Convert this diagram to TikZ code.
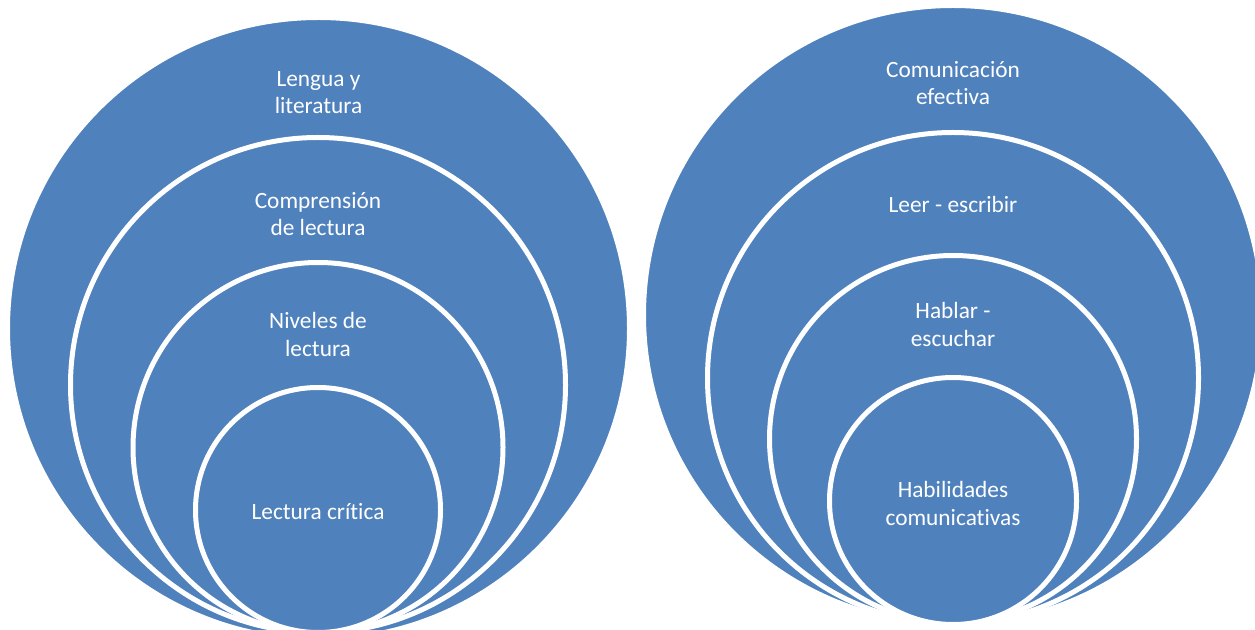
\documentclass[tikz,border=0pt]{standalone}
\usepackage{fontspec}
\setmainfont{Carlito}[Ligatures=NoCommon]
\usetikzlibrary{calc}
\definecolor{ringblue}{RGB}{79,129,189}

\tikzset{
  ring/.style={circle, fill=ringblue, draw=white, line width=3.75pt,
    inner sep=0pt, outer sep=0pt},
  ringlabel/.style={align=center, text=white, inner sep=0pt,
    font=\fontsize{17.5}{20.3}\selectfont}
}

% #1 name, #2 x, #3 y, #4 radius (px), #5 label drop from top (px), #6 label
\newcommand{\nestRing}[6]{%
  \node[ring, minimum size=#4*1.5pt] (#1) at (#2, #3) {};%
  \node[ringlabel] (#1-text) at ([yshift=-#5*0.75pt]#1.north) {#6};%
}

\begin{document}
\begin{tikzpicture}[x=0.75pt, y=0.75pt]
  \useasboundingbox (0, 0) rectangle (1255, -630);
  \clip (0, 0) rectangle (1255, -630);

  % Left set of rings
  \nestRing{lengua}{318.5}{-328.5}{311}{75.5}{Lengua y\\literatura}
  \nestRing{comprension}{318}{-385}{247.5}{77}{Comprensión\\de lectura}
  \nestRing{niveles}{318}{-447.5}{185}{72}{Niveles de\\lectura}
  \nestRing{critica}{318}{-510}{122.5}{124.5}{Lectura crítica}

  % Right set of rings
  \nestRing{comunicacion}{953}{-315}{309.5}{78}{Comunicación\\efectiva}
  \nestRing{leer}{953}{-378}{245.5}{71.5}{Leer - escribir}
  \nestRing{hablar}{953}{-439}{183.5}{69}{Hablar -\\escuchar}
  \nestRing{habilidades}{953}{-501}{123.5}{126}{Habilidades\\comunicativas}
\end{tikzpicture}
\end{document}
